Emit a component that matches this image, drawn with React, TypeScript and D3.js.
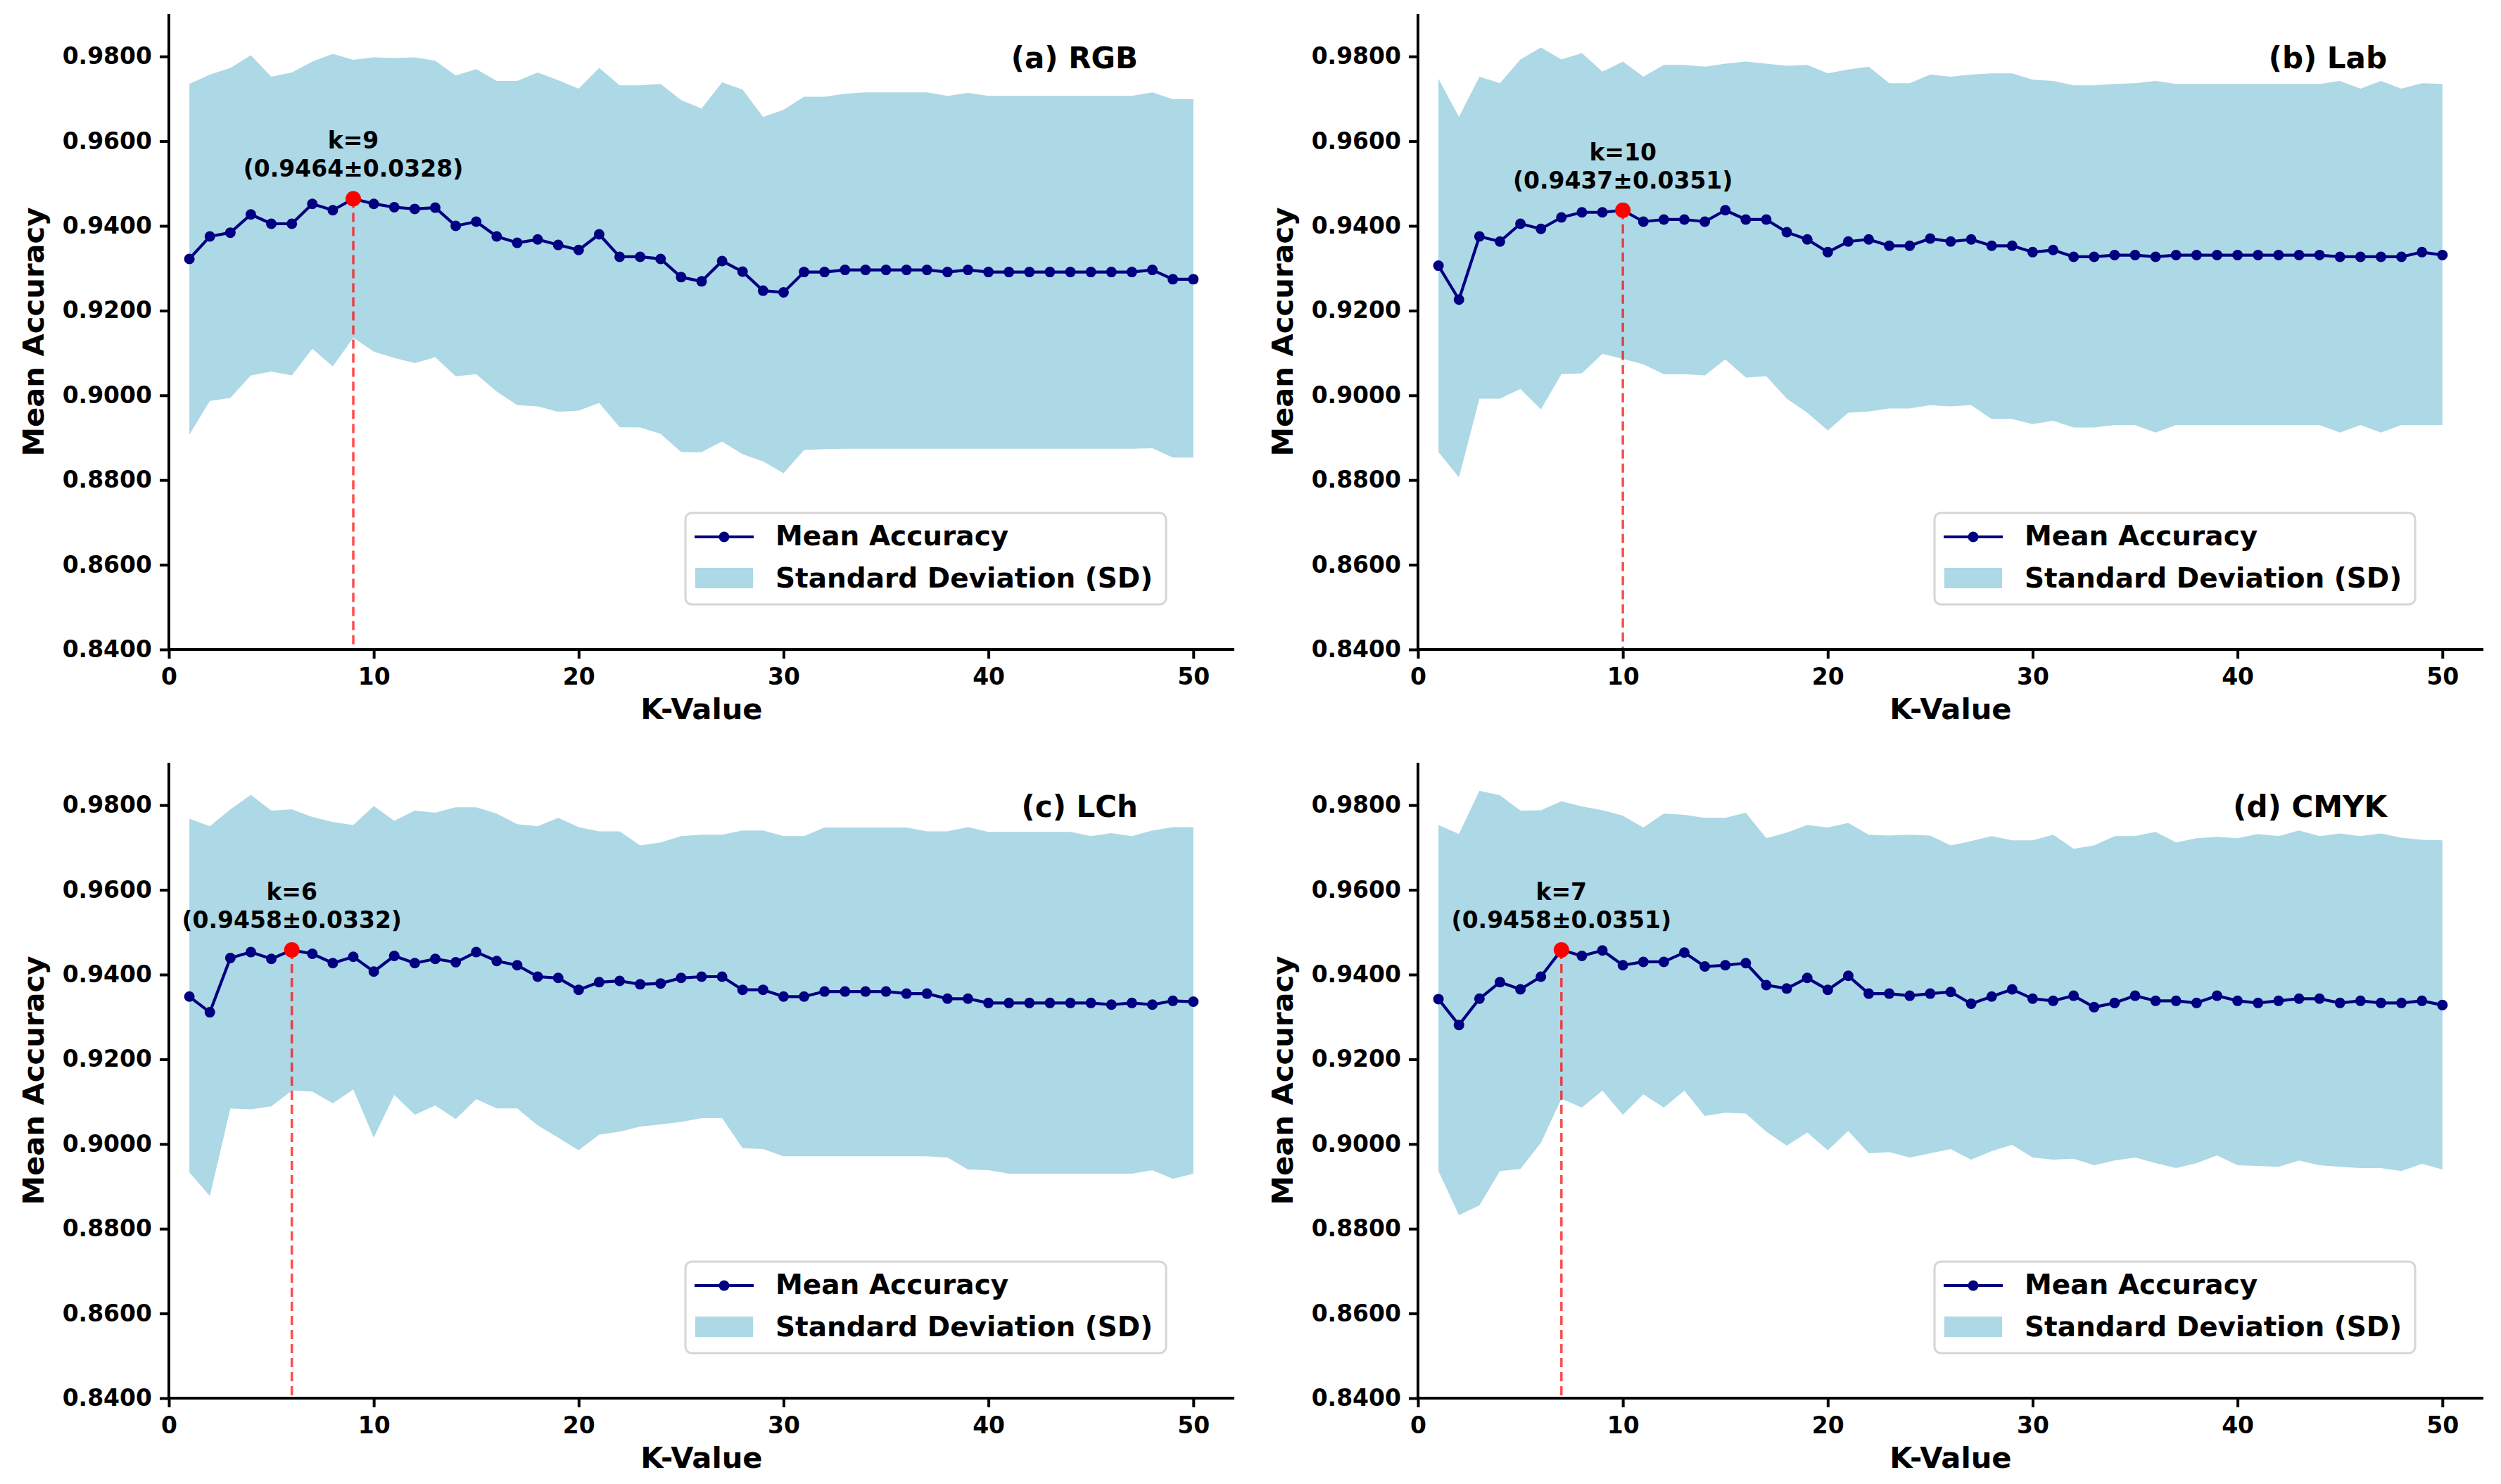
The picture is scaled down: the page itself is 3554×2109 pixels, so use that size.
import { useEffect, useRef } from 'react';
import * as d3 from 'd3';

const kValues = [
  1, 2, 3, 4, 5, 6, 7, 8, 9, 10, 11, 12, 13, 14, 15, 16, 17, 18, 19, 20, 21, 22, 23, 24, 25,
  26, 27, 28, 29, 30, 31, 32, 33, 34, 35, 36, 37, 38, 39, 40, 41, 42, 43, 44, 45, 46, 47, 48, 49, 50,
];

const xTicks = [0, 10, 20, 30, 40, 50];
const yTicks = [0.84, 0.86, 0.88, 0.9, 0.92, 0.94, 0.96, 0.98];

// (a) RGB
const rgbMean = [
  0.9322, 0.9375, 0.9384, 0.9427, 0.9405, 0.9405, 0.9452, 0.9437, 0.9464, 0.9452,
  0.9444, 0.944, 0.9443, 0.94, 0.941, 0.9375, 0.936, 0.9368, 0.9355, 0.9343,
  0.938, 0.9327, 0.9327, 0.9322, 0.9279, 0.9269, 0.9317, 0.9292, 0.9247, 0.9243,
  0.9291, 0.9291, 0.9296, 0.9296, 0.9296, 0.9296, 0.9296, 0.9291, 0.9296, 0.9291,
  0.9291, 0.9291, 0.9291, 0.9291, 0.9291, 0.9291, 0.9291, 0.9296, 0.9274, 0.9274,
];
const rgbUpper = [
  0.9735, 0.9757, 0.9773, 0.9803, 0.9752, 0.9762, 0.9788, 0.9806, 0.9792, 0.9798,
  0.9796, 0.9798, 0.979, 0.9755, 0.977, 0.9742, 0.9742, 0.9762, 0.9744, 0.9724,
  0.9773, 0.9732, 0.9732, 0.9735, 0.9697, 0.9677, 0.9739, 0.9722, 0.9657, 0.9674,
  0.9705, 0.9705, 0.9712, 0.9715, 0.9715, 0.9715, 0.9715, 0.9707, 0.9714, 0.9707,
  0.9707, 0.9707, 0.9707, 0.9707, 0.9707, 0.9707, 0.9707, 0.9715, 0.9699, 0.9699,
];
const rgbLower = [
  0.8907, 0.8987, 0.8994, 0.9047, 0.9056, 0.9047, 0.911, 0.9068, 0.9136, 0.9103,
  0.9088, 0.9076, 0.909, 0.9045, 0.905, 0.9009, 0.8977, 0.8974, 0.8961, 0.8964,
  0.8982, 0.8925, 0.8924, 0.8909, 0.8866, 0.8866, 0.8891, 0.8861, 0.8844, 0.8816,
  0.8871, 0.8873, 0.8874, 0.8874, 0.8874, 0.8874, 0.8874, 0.8874, 0.8874, 0.8874,
  0.8874, 0.8874, 0.8874, 0.8874, 0.8874, 0.8874, 0.8874, 0.8875, 0.8853, 0.8853,
];

// (b) Lab
const labMean = [
  0.9306, 0.9226, 0.9375, 0.9363, 0.9405, 0.9393, 0.942, 0.9432, 0.9432, 0.9437,
  0.941, 0.9415, 0.9415, 0.941, 0.9437, 0.9415, 0.9415, 0.9385, 0.9368, 0.9338,
  0.9363, 0.9368, 0.9353, 0.9353, 0.937, 0.9363, 0.9368, 0.9353, 0.9353, 0.9338,
  0.9343, 0.9327, 0.9327, 0.9331, 0.9331, 0.9327, 0.9331, 0.9331, 0.9331, 0.9331,
  0.9331, 0.9331, 0.9331, 0.9331, 0.9327, 0.9327, 0.9327, 0.9327, 0.9338, 0.9331,
];
const labUpper = [
  0.9747, 0.9657, 0.9752, 0.9737, 0.9793, 0.9821, 0.9793, 0.9808, 0.9764, 0.9788,
  0.9752, 0.978, 0.978, 0.9776, 0.9783, 0.9788, 0.9783, 0.9778, 0.978, 0.976,
  0.9769, 0.9776, 0.9737, 0.9737, 0.9757, 0.9752, 0.9757, 0.976, 0.976, 0.9745,
  0.9742, 0.9732, 0.9732, 0.9735, 0.9737, 0.9742, 0.9735, 0.9735, 0.9735, 0.9735,
  0.9735, 0.9735, 0.9735, 0.9735, 0.9742, 0.9724, 0.9742, 0.9724, 0.9737, 0.9735,
];
const labLower = [
  0.8866, 0.8806, 0.8992, 0.8992, 0.9015, 0.8967, 0.905, 0.9052, 0.9098, 0.9086,
  0.9073, 0.905, 0.905, 0.9047, 0.9085, 0.9042, 0.9045, 0.8992, 0.8959, 0.8917,
  0.8959, 0.8962, 0.8969, 0.8969, 0.8977, 0.8974, 0.8977, 0.8944, 0.8944, 0.8932,
  0.894, 0.8924, 0.8924, 0.893, 0.893, 0.8912, 0.893, 0.893, 0.893, 0.893,
  0.893, 0.893, 0.893, 0.893, 0.8912, 0.893, 0.8912, 0.893, 0.893, 0.893,
];

// (c) LCh
const lchMean = [
  0.9348, 0.9311, 0.9439, 0.9453, 0.9437, 0.9458, 0.9449, 0.9427, 0.9442, 0.9407,
  0.9444, 0.9427, 0.9437, 0.9429, 0.9453, 0.9432, 0.9422, 0.9395, 0.9392, 0.9364,
  0.9382, 0.9385, 0.9377, 0.9379, 0.9392, 0.9395, 0.9395, 0.9364, 0.9364, 0.9348,
  0.9348, 0.936, 0.936, 0.936, 0.936, 0.9355, 0.9355, 0.9343, 0.9343, 0.9333,
  0.9333, 0.9333, 0.9333, 0.9333, 0.9333, 0.9329, 0.9333, 0.9329, 0.9338, 0.9336,
];
const lchUpper = [
  0.9768, 0.975, 0.979, 0.9824, 0.9787, 0.979, 0.9772, 0.976, 0.9753, 0.9798,
  0.9763, 0.9787, 0.9782, 0.9795, 0.9795, 0.978, 0.9755, 0.975, 0.977, 0.9748,
  0.9738, 0.9738, 0.9705, 0.9712, 0.9727, 0.973, 0.973, 0.974, 0.974, 0.9727,
  0.9727, 0.9747, 0.9747, 0.9747, 0.9747, 0.9747, 0.9738, 0.9738, 0.9748, 0.9737,
  0.9737, 0.9737, 0.9737, 0.9737, 0.9727, 0.9734, 0.9727, 0.974, 0.9748, 0.9748,
];
const lchLower = [
  0.8933, 0.8877, 0.9084, 0.9082, 0.9089, 0.9126, 0.9124, 0.9096, 0.9129, 0.9015,
  0.9116, 0.9069, 0.9091, 0.9059, 0.9106, 0.9084, 0.9084, 0.9044, 0.9015, 0.8985,
  0.9022, 0.9029, 0.9041, 0.9046, 0.9052, 0.9061, 0.9061, 0.899, 0.8988, 0.8971,
  0.8971, 0.8971, 0.8971, 0.8971, 0.8971, 0.8971, 0.8971, 0.8968, 0.894, 0.8938,
  0.893, 0.893, 0.893, 0.893, 0.893, 0.893, 0.893, 0.8938, 0.8918, 0.893,
];

// (d) CMYK
const cmykMean = [
  0.9342, 0.9281, 0.9343, 0.9382, 0.9365, 0.9395, 0.9458, 0.9444, 0.9457, 0.9422,
  0.943, 0.943, 0.9452, 0.9419, 0.9422, 0.9427, 0.9375, 0.9367, 0.9392, 0.9364,
  0.9397, 0.9355, 0.9355, 0.935, 0.9355, 0.9359, 0.9331, 0.9348, 0.9365, 0.9343,
  0.9338, 0.935, 0.9323, 0.9333, 0.935, 0.9338, 0.9338, 0.9333, 0.935, 0.9338,
  0.9333, 0.9338, 0.9343, 0.9343, 0.9333, 0.9338, 0.9333, 0.9333, 0.9338, 0.9328,
];
const cmykUpper = [
  0.9753, 0.9732, 0.9834, 0.9823, 0.9787, 0.9788, 0.9809, 0.9797, 0.9788, 0.9775,
  0.9747, 0.978, 0.9777, 0.977, 0.977, 0.9782, 0.9722, 0.9735, 0.9753, 0.9747,
  0.9758, 0.973, 0.9728, 0.973, 0.9728, 0.9705, 0.9715, 0.9727, 0.9717, 0.9717,
  0.973, 0.9697, 0.9705, 0.9727, 0.9727, 0.9737, 0.9712, 0.9722, 0.9725, 0.9722,
  0.9732, 0.9727, 0.974, 0.9727, 0.9733, 0.9727, 0.9733, 0.9723, 0.9718, 0.9717,
];
const cmykLower = [
  0.8936, 0.8832, 0.8855, 0.8936, 0.8941, 0.9003, 0.9107, 0.9086, 0.9126, 0.9069,
  0.9117, 0.9086, 0.9126, 0.9066, 0.9074, 0.9072, 0.9029, 0.8996, 0.9027, 0.8985,
  0.9031, 0.8978, 0.8981, 0.8968, 0.8978, 0.8988, 0.8963, 0.8983, 0.8998, 0.8968,
  0.8963, 0.8965, 0.895, 0.8961, 0.8968, 0.8955, 0.8943, 0.8955, 0.8973, 0.895,
  0.8948, 0.8946, 0.8961, 0.895, 0.8946, 0.8943, 0.8943, 0.8936, 0.8953, 0.894,
];

const panelTitles = ['(a) RGB', '(b) Lab', '(c) LCh', '(d) CMYK'];
const bestK = [9, 10, 6, 7];
const bestMean = [0.9464, 0.9437, 0.9458, 0.9458];
const bestSD = [0.0328, 0.0351, 0.0332, 0.0351];
const legendLabels = ['Mean Accuracy', 'Standard Deviation (SD)'];

const W = 3554;
const H = 2109;
const FONT = '"DejaVu Sans", sans-serif';
const NAVY = '#000080';
const BAND = '#ADD8E6';

export default function App() {
  const svgRef = useRef<SVGSVGElement>(null);

  useEffect(() => {
    if (!svgRef.current) return;
    const svg = d3.select(svgRef.current);
    svg.selectAll('*').remove();

    const panels = [
      { mean: rgbMean, upper: rgbUpper, lower: rgbLower, left: 240, top: 20 },
      { mean: labMean, upper: labUpper, lower: labLower, left: 2015, top: 20 },
      { mean: lchMean, upper: lchUpper, lower: lchLower, left: 240, top: 1084 },
      { mean: cmykMean, upper: cmykUpper, lower: cmykLower, left: 2015, top: 1084 },
    ];
    const pw = 1514;
    const ph = 903;

    panels.forEach((p, i) => {
      const g = svg.append('g').attr('transform', `translate(${p.left},${p.top})`);
      const x = d3.scaleLinear().domain([0, 52]).range([0, pw]);
      const y = d3.scaleLinear().domain([0.84, 0.99]).range([ph, 0]);

      const rows = kValues.map((k, j) => ({ k, m: p.mean[j], u: p.upper[j], l: p.lower[j] }));

      // SD band
      const area = d3
        .area<{ k: number; u: number; l: number }>()
        .x((d) => x(d.k))
        .y0((d) => y(d.l))
        .y1((d) => y(d.u));
      g.append('path').datum(rows).attr('fill', BAND).attr('d', area as never);

      // mean line + markers
      const line = d3
        .line<{ k: number; m: number }>()
        .x((d) => x(d.k))
        .y((d) => y(d.m));
      g.append('path')
        .datum(rows)
        .attr('fill', 'none')
        .attr('stroke', NAVY)
        .attr('stroke-width', 4.2)
        .attr('stroke-linejoin', 'round')
        .attr('d', line as never);
      g.selectAll('circle.pt')
        .data(rows)
        .enter()
        .append('circle')
        .attr('class', 'pt')
        .attr('cx', (d) => x(d.k))
        .attr('cy', (d) => y(d.m))
        .attr('r', 7.5)
        .attr('fill', NAVY);

      // best-k marker, dashed drop line, annotation
      const bx = x(bestK[i]);
      const by = y(bestMean[i]);
      g.append('line')
        .attr('x1', bx)
        .attr('x2', bx)
        .attr('y1', by)
        .attr('y2', ph)
        .attr('stroke', 'red')
        .attr('stroke-opacity', 0.7)
        .attr('stroke-width', 3.5)
        .attr('stroke-dasharray', '13 7');
      g.append('circle').attr('cx', bx).attr('cy', by).attr('r', 11).attr('fill', 'red');
      const ann = g
        .append('text')
        .attr('x', bx)
        .attr('text-anchor', 'middle')
        .attr('font-family', FONT)
        .attr('font-weight', 'bold')
        .attr('font-size', 33);
      ann.append('tspan').attr('x', bx).attr('y', by - 71).text(`k=${bestK[i]}`);
      ann
        .append('tspan')
        .attr('x', bx)
        .attr('y', by - 31)
        .text(`(${bestMean[i].toFixed(4)}±${bestSD[i].toFixed(4)})`);

      // axes
      const xAxis = g
        .append('g')
        .attr('transform', `translate(0,${ph})`)
        .call(d3.axisBottom(x).tickValues(xTicks).tickSize(13).tickPadding(14).tickFormat(d3.format('d')) as never);
      const yAxis = g
        .append('g')
        .call(d3.axisLeft(y).tickValues(yTicks).tickSize(13).tickPadding(11).tickFormat(d3.format('.4f')) as never);
      [xAxis, yAxis].forEach((ax) => {
        ax.select('.domain').attr('stroke', '#000').attr('stroke-width', 4);
        ax.selectAll('.tick line').attr('stroke', '#000').attr('stroke-width', 4);
        ax.selectAll('.tick text')
          .attr('fill', '#000')
          .attr('font-family', FONT)
          .attr('font-weight', 'bold')
          .attr('font-size', 33);
      });
      xAxis.select('.domain').attr('d', `M0,0H${pw}`);
      yAxis.select('.domain').attr('d', `M0,${ph}V0`);

      g.append('text')
        .attr('x', pw / 2)
        .attr('y', ph + 99)
        .attr('text-anchor', 'middle')
        .attr('font-family', FONT)
        .attr('font-weight', 'bold')
        .attr('font-size', 41.7)
        .text('K-Value');
      g.append('text')
        .attr('transform', `translate(-178,${ph / 2}) rotate(-90)`)
        .attr('text-anchor', 'middle')
        .attr('font-family', FONT)
        .attr('font-weight', 'bold')
        .attr('font-size', 41.7)
        .text('Mean Accuracy');

      g.append('text')
        .attr('x', 1377)
        .attr('y', 77)
        .attr('text-anchor', 'end')
        .attr('font-family', FONT)
        .attr('font-weight', 'bold')
        .attr('font-size', 42)
        .text(panelTitles[i]);

      // legend
      const lg = g.append('g').attr('transform', `translate(734,709)`);
      lg.append('rect')
        .attr('width', 683)
        .attr('height', 130)
        .attr('rx', 9)
        .attr('fill', '#fff')
        .attr('fill-opacity', 0.8)
        .attr('stroke', '#d6d6d6')
        .attr('stroke-width', 3);
      lg.append('line')
        .attr('x1', 13)
        .attr('x2', 97)
        .attr('y1', 34)
        .attr('y2', 34)
        .attr('stroke', NAVY)
        .attr('stroke-width', 4.2);
      lg.append('circle').attr('cx', 55).attr('cy', 34).attr('r', 7.5).attr('fill', NAVY);
      lg.append('rect').attr('x', 14).attr('y', 78).attr('width', 82).attr('height', 29).attr('fill', BAND);
      legendLabels.forEach((t, j) => {
        lg.append('text')
          .attr('x', 128)
          .attr('y', 46 + j * 60)
          .attr('font-family', FONT)
          .attr('font-weight', 'bold')
          .attr('font-size', 39)
          .text(t);
      });
    });
  }, []);

  return (
    <div style={{ position: 'absolute', left: 0, top: 0, background: '#fff' }}>
      <svg ref={svgRef} width={W} height={H} style={{ display: 'block', background: '#fff' }} />
    </div>
  );
}
